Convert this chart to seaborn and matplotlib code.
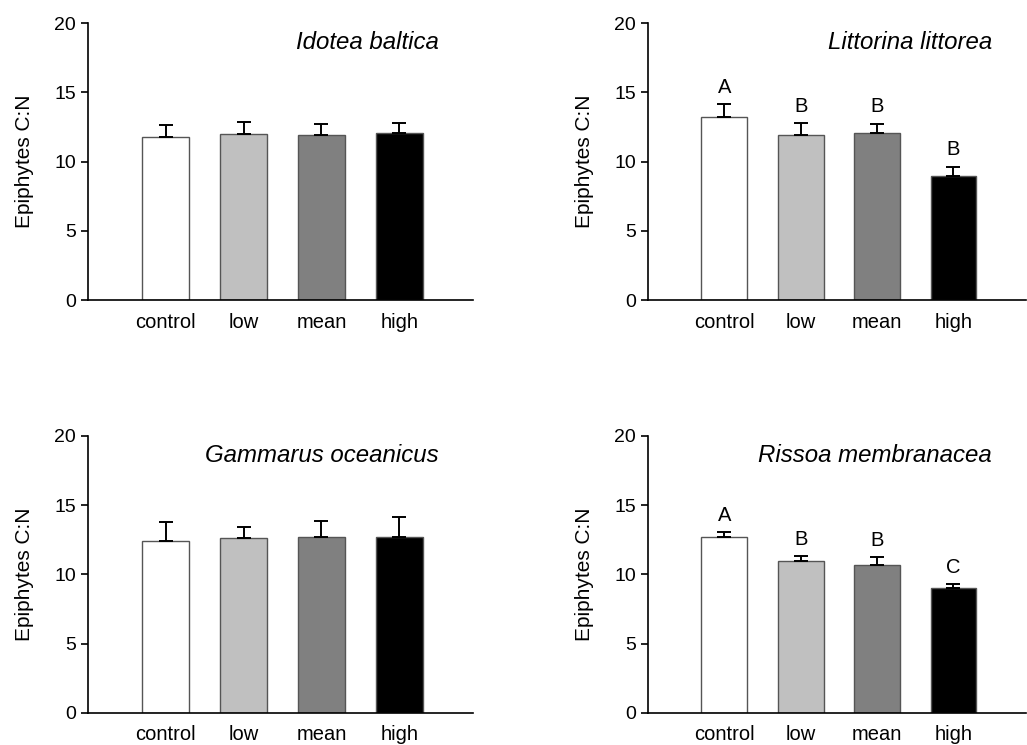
import numpy as np
import pandas as pd
import matplotlib
matplotlib.use("Agg")
import matplotlib.pyplot as plt
import seaborn as sns

treatments = ["control", "low", "mean", "high"]
bar_colors = ["#ffffff", "#c0c0c0", "#808080", "#000000"]

species = ["Idotea baltica", "Littorina littorea", "Gammarus oceanicus", "Rissoa membranacea"]

idotea_mean = [11.8, 12.0, 11.9, 12.1]
idotea_se = [0.85, 0.85, 0.8, 0.7]

littorina_mean = [13.25, 11.95, 12.05, 9.0]
littorina_se = [0.9, 0.85, 0.7, 0.65]
littorina_letters = ["A", "B", "B", "B"]

gammarus_mean = [12.4, 12.65, 12.7, 12.7]
gammarus_se = [1.4, 0.75, 1.15, 1.45]

rissoa_mean = [12.7, 11.0, 10.65, 9.05]
rissoa_se = [0.35, 0.35, 0.6, 0.25]
rissoa_letters = ["A", "B", "B", "C"]

panels = [
    (idotea_mean, idotea_se, None),
    (littorina_mean, littorina_se, littorina_letters),
    (gammarus_mean, gammarus_se, None),
    (rissoa_mean, rissoa_se, rissoa_letters),
]

sns.set_style("ticks")
plt.rcParams["font.family"] = ["Liberation Sans", "DejaVu Sans"]
plt.rcParams["text.color"] = "black"
plt.rcParams["axes.labelcolor"] = "black"
plt.rcParams["xtick.color"] = "black"
plt.rcParams["ytick.color"] = "black"

fig = plt.figure(figsize=(10.27, 7.45), dpi=100)
positions = [
    [0.0857, 0.597, 0.375, 0.372],
    [0.631, 0.597, 0.368, 0.372],
    [0.0857, 0.043, 0.375, 0.372],
    [0.631, 0.043, 0.368, 0.372],
]

for pos, name, (means, errs, letters) in zip(positions, species, panels):
    ax = fig.add_axes(pos)
    df = pd.DataFrame({"treatment": treatments, "cn": means})
    sns.barplot(data=df, x="treatment", y="cn", hue="treatment",
                palette=bar_colors, order=treatments, width=0.6,
                edgecolor="#555555", linewidth=1.0, legend=False,
                errorbar=None, ax=ax)
    x = np.arange(len(treatments))
    ax.errorbar(x, means, yerr=[np.zeros(len(errs)), errs], fmt="none",
                ecolor="black", elinewidth=1.4, capsize=5, capthick=1.4)
    if letters is not None:
        for xi, m, e, lab in zip(x, means, errs, letters):
            ax.text(xi, m + e + 1.2, lab, ha="center", va="center", fontsize=14.5)
    ax.set_xlim(-1.0, 3.95)
    ax.set_ylim(0, 20)
    ax.set_yticks([0, 5, 10, 15, 20])
    ax.set_xlabel("")
    ax.set_ylabel("Epiphytes C:N", fontsize=15, labelpad=15)
    ax.tick_params(axis="y", length=5, width=1.2, labelsize=14, color="black")
    ax.tick_params(axis="x", length=0, pad=9, labelsize=14.5)
    sns.despine(ax=ax)
    for sp in ["left", "bottom"]:
        ax.spines[sp].set_linewidth(1.2)
        ax.spines[sp].set_color("black")
    ax.text(0.91, 0.93, name, transform=ax.transAxes, ha="right", va="center",
            fontsize=17.3, style="italic")

fig.savefig("out.png", dpi=100)
